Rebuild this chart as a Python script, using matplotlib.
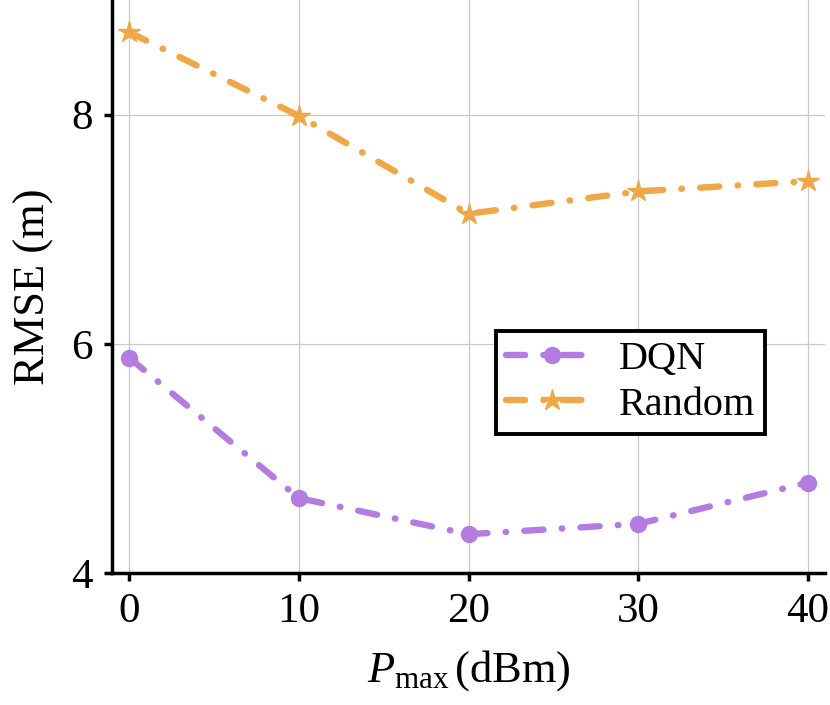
import matplotlib
matplotlib.use("Agg")
import matplotlib.pyplot as plt

plt.rcParams['font.family'] = ['Liberation Serif', 'DejaVu Serif']
plt.rcParams['mathtext.fontset'] = 'custom'
plt.rcParams['mathtext.rm'] = 'Liberation Serif'
plt.rcParams['mathtext.it'] = 'Liberation Serif:italic'

p_max = [0, 10, 20, 30, 40]
dqn = [5.88, 4.655, 4.34, 4.43, 4.79]
random_ = [8.72, 7.99, 7.135, 7.33, 7.42]
xticks = [0, 10, 20, 30, 40]
yticks = [4, 6, 8]

purple = '#B47BE0'
orange = '#EFA845'
dashdot = (0, (3.0, 2.85, 0.1, 2.85))

fig = plt.figure(figsize=(8.3, 7.05), dpi=100)
ax = fig.add_axes([0.135, 0.187, 0.859, 0.813])

ax.plot(p_max, dqn, linestyle=dashdot, color=purple, lw=4.6, marker='o', ms=11.5,
        dash_capstyle='round', label='DQN')
ax.plot(p_max, random_, linestyle=dashdot, color=orange, lw=4.6, marker='*', ms=16,
        dash_capstyle='round', label='Random')

ax.set_xlim(-1, 41)
ax.set_ylim(4, 9)
ax.set_xticks(xticks)
ax.set_yticks(yticks)
ax.grid(True, color='#c8c8c8', lw=0.9)
ax.set_axisbelow(True)
for s in ['top', 'right']:
    ax.spines[s].set_visible(False)
for s in ['left', 'bottom']:
    ax.spines[s].set_linewidth(2.5)
ax.tick_params(axis='both', width=2.5, length=6, labelsize=31, pad=8)

ax.set_xlabel(r'$P_{\mathrm{max}}\,$(dBm)', fontsize=32, labelpad=12)
ax.set_ylabel('RMSE (m)', fontsize=32, labelpad=12)

leg = ax.legend(loc='center', bbox_to_anchor=(0.727, 0.333), fontsize=29,
                fancybox=False, framealpha=1, edgecolor='black',
                handlelength=2.3, borderpad=0.25, labelspacing=0.2, handletextpad=0.5,
                borderaxespad=0)
leg.get_frame().set_linewidth(2.8)

fig.savefig('out.png', dpi=100)
